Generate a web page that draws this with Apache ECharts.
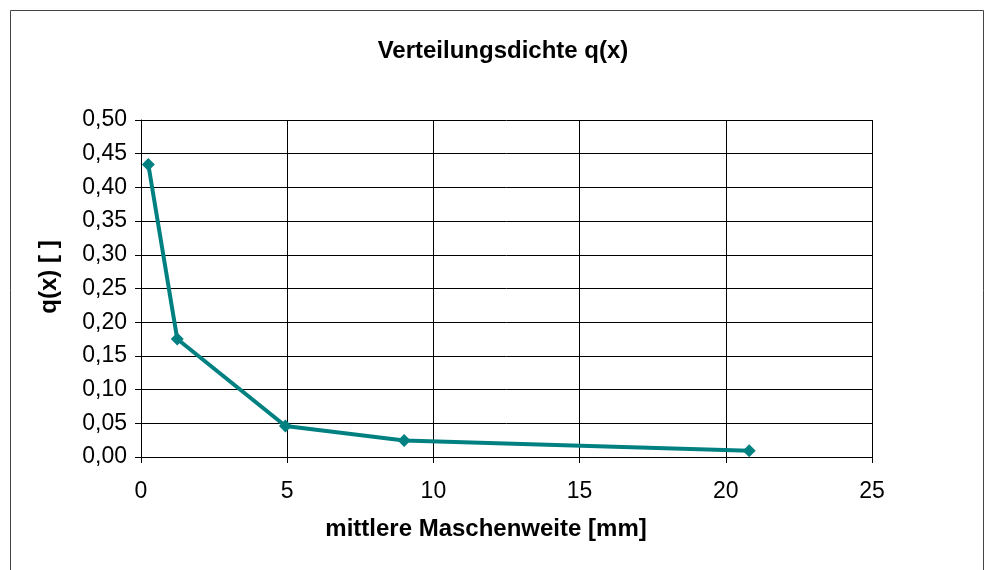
<!DOCTYPE html>
<html><head><meta charset="utf-8">
<script src="https://cdn.jsdelivr.net/npm/echarts@6/dist/echarts.min.js"></script>
<style>html,body{margin:0;padding:0;background:#fff}#c{width:993px;height:570px}</style>
</head><body><div id="c"></div>
<script>
const xValues = [0.25, 1.24, 4.94, 9.0, 20.8];
const qValues = [0.434, 0.175, 0.046, 0.0245, 0.0094];
const chartTitle = 'Verteilungsdichte q(x)';
const xName = 'mittlere Maschenweite [mm]';
const yName = 'q(x) [ ]';

const chart = echarts.init(document.getElementById('c'));
const font = 'Liberation Sans, Arial, sans-serif';
const bold = { fontFamily: font, fontSize: 24, fontWeight: 'bold', fill: '#000', textAlign: 'center', textVerticalAlign: 'middle' };
chart.setOption({
  animation: false,
  backgroundColor: '#fff',
  graphic: [
    { type: 'rect', shape: { x: 10.5, y: 10.5, width: 973, height: 580 },
      style: { fill: 'none', stroke: '#444', lineWidth: 1 }, silent: true },
    { type: 'text', x: 503, y: 51, style: Object.assign({ text: chartTitle }, bold), silent: true },
    { type: 'text', x: 486, y: 529, style: Object.assign({ text: xName }, bold), silent: true },
    { type: 'text', x: 49, y: 277, rotation: Math.PI / 2, style: Object.assign({ text: yName }, bold), silent: true }
  ],
  grid: { left: 141, top: 120, width: 731, height: 337 },
  xAxis: {
    type: 'value', min: 0, max: 25, interval: 5,
    axisLine: { show: true, lineStyle: { color: '#000', width: 1 } },
    axisTick: { show: true, length: 6, lineStyle: { color: '#000' } },
    axisLabel: { fontFamily: font, fontSize: 23, color: '#000', margin: 23 },
    splitLine: { show: true, lineStyle: { color: '#000', width: 1 } }
  },
  yAxis: {
    type: 'value', min: 0, max: 0.5, interval: 0.05,
    axisLine: { show: true, lineStyle: { color: '#000', width: 1 } },
    axisTick: { show: true, length: 6, lineStyle: { color: '#000' } },
    axisLabel: { fontFamily: font, fontSize: 23, color: '#000', margin: 14,
      formatter: v => v.toFixed(2).replace('.', ',') },
    splitLine: { show: true, lineStyle: { color: '#000', width: 1 } }
  },
  series: [{
    type: 'line', data: xValues.map((x, i) => [x, qValues[i]]),
    symbol: 'diamond', symbolSize: 13,
    lineStyle: { color: '#008080', width: 4 },
    itemStyle: { color: '#008080' }
  }]
});
</script></body></html>
